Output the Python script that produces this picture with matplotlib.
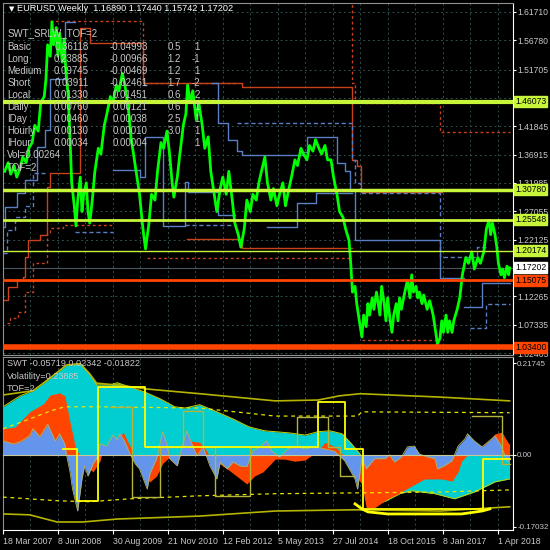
import numpy as np
import matplotlib.pyplot as plt

plt.rcParams['font.family'] = ['Liberation Sans', 'DejaVu Sans']
nan = np.nan

# ---- EURUSD weekly, week 0 = 18 Mar 2007
week = [2, 6, 9, 13, 16, 20, 23, 27, 30, 34,
        37, 41, 44, 48, 50, 52, 55, 57, 59, 62,
        64, 66, 69, 71, 73, 76, 78, 80, 83, 85,
        87, 90, 92, 94, 97, 99, 101, 104, 107, 111,
        114, 118, 121, 125, 128, 132, 135, 139, 142, 146,
        149, 152, 156, 159, 163, 166, 170, 173, 177, 180,
        184, 187, 191, 194, 197, 199, 203, 206, 210, 213,
        215, 218, 221, 225, 228, 232, 235, 239, 242, 246,
        249, 253, 256, 260, 263, 267, 270, 274, 277, 281,
        284, 288, 291, 295, 298, 301, 305, 308, 312, 315,
        319, 322, 326, 329, 333, 336, 340, 343, 347, 350,
        354, 357, 361, 364, 368, 371, 375, 378, 382, 385,
        389, 392, 396, 399, 403, 405, 407, 410, 412, 415,
        418, 420, 423, 425, 427, 430, 432, 435, 439, 441,
        444, 446, 448, 451, 453, 455, 458, 460, 462, 464,
        468, 471, 474, 476, 478, 481, 483, 485, 488, 490,
        494, 497, 501, 504, 506, 509, 511, 513, 516, 518,
        520, 523, 525, 529, 532, 535, 539, 542, 546, 549,
        553, 556, 560, 563, 566, 568, 570, 573, 575, 577,
        580, 582, 584, 587, 589, 590]
close = [1.340, 1.355, 1.335, 1.350, 1.330, 1.345, 1.365, 1.355, 1.380, 1.390,
         1.420, 1.410, 1.460, 1.470, 1.500, 1.560, 1.540, 1.600, 1.560, 1.590,
         1.540, 1.580, 1.530, 1.570, 1.520, 1.470, 1.400, 1.320, 1.280, 1.245,
         1.290, 1.330, 1.270, 1.300, 1.320, 1.270, 1.250, 1.290, 1.340, 1.380,
         1.370, 1.420, 1.440, 1.470, 1.460, 1.490, 1.480, 1.510, 1.490, 1.450,
         1.400, 1.370, 1.330, 1.300, 1.240, 1.205, 1.250, 1.300, 1.290, 1.340,
         1.390, 1.380, 1.410, 1.370, 1.320, 1.295, 1.330, 1.370, 1.420, 1.440,
         1.490, 1.460, 1.480, 1.430, 1.460, 1.420, 1.380, 1.400, 1.340, 1.300,
         1.270, 1.310, 1.330, 1.300, 1.340, 1.290, 1.250, 1.230, 1.208, 1.240,
         1.290, 1.270, 1.300, 1.290, 1.320, 1.340, 1.365, 1.320, 1.290, 1.310,
         1.280, 1.300, 1.320, 1.280, 1.310, 1.330, 1.360, 1.350, 1.380, 1.370,
         1.360, 1.385, 1.375, 1.395, 1.380, 1.370, 1.385, 1.360, 1.360, 1.330,
         1.300, 1.270, 1.260, 1.240, 1.220, 1.180, 1.130, 1.140, 1.110, 1.080,
         1.052, 1.090, 1.070, 1.110, 1.090, 1.120, 1.100, 1.130, 1.090, 1.140,
         1.110, 1.080, 1.120, 1.080, 1.060, 1.090, 1.110, 1.080, 1.120, 1.100,
         1.130, 1.150, 1.120, 1.160, 1.130, 1.140, 1.120, 1.130, 1.110, 1.125,
         1.100, 1.115, 1.090, 1.060, 1.040, 1.050, 1.080, 1.060, 1.090, 1.060,
         1.080, 1.060, 1.080, 1.100, 1.120, 1.160, 1.190, 1.180, 1.200, 1.170,
         1.190, 1.180, 1.200, 1.240, 1.255, 1.230, 1.250, 1.230, 1.210, 1.180,
         1.160, 1.170, 1.155, 1.175, 1.160, 1.172]

date_weeks = [0, 64, 128, 192, 256, 320, 384, 448, 512, 576]
date_labels = ['18 Mar 2007', '8 Jun 2008', '30 Aug 2009', '21 Nov 2010', '12 Feb 2012',
               '5 May 2013', '27 Jul 2014', '18 Oct 2015', '8 Jan 2017', '1 Apr 2018']

price_ticks = [1.61710, 1.56780, 1.51705, 1.46775, 1.41845, 1.36915, 1.31985,
               1.27055, 1.22125, 1.17195, 1.12265, 1.07335, 1.02405]
price_tick_labels = ['1.61710', '1.56780', '1.51705', '', '1.41845', '1.36915', '1.31985',
                     '1.27055', '1.22125', '', '1.12265', '1.07335', '1.02405']

levels = [1.46073, 1.30780, 1.25548, 1.20174, 1.17202, 1.15075, 1.03400]
level_colors = ['#c6f53a', '#c6f53a', '#c6f53a', '#c6f53a', '#ffffff', '#ff4500', '#ff4500']
level_line_colors = ['#c6f53a', '#c6f53a', '#c6f53a', '#c6f53a', '#4a5660', '#ff4500', '#ff4500']
level_widths = [3.0, 2.5, 2.0, 1.0, 0.8, 2.0, 4.0]

# support / resistance steps
red_a_w = [0, 6, 16, 23, 26, 29, 43, 51, 55, 90, 101, 163, 278, 406, 412, 417, 511]
red_a_v = [1.116, 1.139, 1.151, 1.156, 1.191, 1.220, 1.230, 1.313, 1.337, 1.590, 1.563,
           1.493, 1.487, 1.360, 1.350, 1.304, nan]
red_b_w = [214, 278, 406]
red_b_v = [1.222, 1.206, nan]
red_dot_hi_w = [55, 163, 272, 273, 406, 410, 418, 509, 590]
red_dot_hi_v = [1.602, 1.493, nan, 1.700, 1.493, 1.460, 1.458, 1.408, 1.408]
red_dot_lo_w = [5, 8, 17, 26, 35, 51, 55, 70, 128, 168, 406, 418, 505]
red_dot_lo_v = [1.076, 1.085, 1.095, 1.130, 1.180, 1.233, 1.241, 1.246, nan, 1.189, nan, 1.047, nan]
blue_a_w = [0, 2, 16, 26, 40, 49, 55, 72, 84, 128, 159, 165, 186, 212, 215, 250, 270]
blue_a_v = [1.243, 1.278, 1.302, 1.325, 1.382, 1.412, 1.500, 1.600, nan, 1.342, 1.330,
            1.400, 1.245, 1.321, 1.304, 1.264, nan]
blue_b_w = [244, 250, 262, 272, 278, 349, 354, 389, 398, 404, 410, 509, 537]
blue_b_v = [1.493, 1.424, 1.394, 1.375, 1.368, 1.373, 1.400, 1.354, 1.340, 1.307, 1.220, 1.155, nan]
blue_c_w = [307, 342, 365, 407, 537, 558, 590]
blue_c_v = [1.243, 1.285, 1.302, nan, 1.104, 1.145, 1.145]
blue_dash_a_w = [0, 5, 14, 26, 35, 49, 84, 128, 163, 168, 212, 270, 272, 406, 410, 416, 509, 552, 563]
blue_dash_a_v = [1.198, 1.238, 1.260, 1.280, 1.337, nan, 1.234, nan, 1.490, nan, 1.246, nan,
                 1.424, 1.360, 1.320, 1.302, 1.191, 1.208, nan]
blue_dash_b_w = [544, 563, 590]
blue_dash_b_v = [1.067, 1.110, 1.110]

# ---- SWT sub window
cyan_w = [0, 20, 35, 49, 61, 74, 90, 101, 109, 125, 133, 148, 165, 183, 200, 212, 229, 247,
          268, 287, 305, 317, 334, 352, 367, 381, 395, 406, 416, 420, 427, 445, 462, 476,
          503, 526, 549, 573, 590]
cyan_v = [0.114, 0.140, 0.152, 0.173, 0.192, 0.213, 0.216, 0.192, 0.166, 0.166, 0.171, 0.161,
          0.149, 0.133, 0.114, 0.111, 0.119, 0.104, 0.085, 0.066, 0.057, 0.055, 0.052, 0.047,
          0.055, 0.057, 0.050, 0.026, 0.002, -0.030, -0.120, -0.110, -0.092, -0.085, -0.092,
          -0.104, -0.088, -0.064, -0.057]
orange_w = [0, 14, 31, 47, 55, 66, 72, 78, 84, 90,
            98, 105, 113, 116, 125, 133, 140, 148, 154, 163,
            171, 179, 186, 194, 200, 208, 218, 229, 237, 243,
            250, 261, 272, 284, 293, 303, 317, 328, 340, 352,
            367, 375, 386, 395, 402, 410, 418, 423, 433, 448,
            462, 474, 491, 511, 523, 530, 534, 541, 549, 558,
            567, 573, 581, 588, 590]
orange_v = [0.062, 0.066, 0.102, 0.121, 0.142, 0.147, 0.140, 0.078, 0.021, -0.005,
            -0.030, -0.040, -0.014, 0.010, 0.005, 0.030, 0.054, 0.020, -0.010, -0.050,
            -0.064, -0.050, -0.020, -0.005, -0.012, 0.000, 0.033, 0.030, 0.010, -0.014,
            -0.018, -0.033, -0.050, -0.069, -0.050, -0.040, -0.010, -0.010, -0.015, -0.012,
            0.010, 0.030, 0.020, 0.003, -0.020, -0.045, -0.070, -0.125, -0.125, -0.104,
            -0.090, -0.076, -0.057, -0.057, -0.062, -0.040, -0.015, 0.000, 0.010, 0.020,
            0.035, 0.050, 0.054, 0.030, 0.025]
blue_w = [0, 12, 20, 31, 35, 43, 52, 61, 66, 72,
          74, 78, 81, 87, 92, 95, 99, 105, 111, 113,
          121, 128, 133, 136, 142, 148, 154, 159, 168, 171,
          179, 186, 191, 194, 203, 208, 214, 220, 226, 233,
          241, 249, 253, 261, 268, 276, 284, 291, 299, 307,
          313, 322, 332, 340, 352, 363, 375, 386, 398, 410,
          413, 418, 423, 433, 445, 450, 456, 464, 471, 479,
          485, 495, 503, 506, 514, 523, 530, 538, 541, 549,
          558, 565, 573, 579, 584, 588, 590]
blue_v = [0.033, 0.026, 0.031, 0.045, 0.062, 0.043, 0.073, 0.033, 0.050, 0.026,
          0.000, -0.040, -0.081, -0.133, -0.057, -0.026, -0.050, -0.021, -0.002, 0.026,
          0.021, 0.047, 0.036, 0.050, 0.031, 0.002, -0.021, -0.033, -0.081, -0.045,
          -0.009, 0.055, 0.026, -0.009, -0.026, 0.014, 0.057, 0.026, -0.002, 0.019,
          -0.026, -0.057, -0.017, -0.033, -0.017, -0.026, -0.028, 0.009, 0.019, 0.033,
          0.009, -0.005, 0.014, 0.021, 0.014, 0.019, 0.014, 0.009, -0.014, -0.057,
          -0.081, -0.009, -0.033, -0.009, -0.009, 0.000, -0.017, -0.005, 0.019, 0.021,
          0.002, -0.005, -0.009, -0.033, -0.026, -0.014, 0.021, 0.038, 0.050, 0.033,
          0.019, 0.031, 0.045, 0.026, 0.002, -0.017, -0.014]
upper_w = [0, 35, 49, 61, 74, 90, 101, 109, 136, 168, 229, 317, 367, 392, 416, 509, 590]
upper_v = [0.142, 0.152, 0.173, 0.192, 0.213, 0.216, 0.192, 0.170, 0.165, 0.156, 0.145,
           0.128, 0.130, 0.140, 0.145, 0.137, 0.128]
mid_up_w = [0, 31, 55, 72, 113, 229, 317, 413, 418, 590]
mid_up_v = [0.062, 0.085, 0.104, 0.114, 0.114, 0.111, 0.092, 0.092, 0.102, 0.100]
lower_w = [0, 31, 63, 93, 133, 229, 317, 413, 509, 590]
lower_v = [-0.140, -0.142, -0.159, -0.159, -0.152, -0.145, -0.133, -0.130, -0.133, -0.123]
mid_lo_w = [0, 66, 101, 148, 229, 317, 413, 509, 590]
mid_lo_v = [-0.100, -0.109, -0.111, -0.104, -0.097, -0.092, -0.090, -0.088, -0.083]
trough_w = [410, 418, 425, 448, 485, 534, 558, 567]
trough_v = [-0.116, -0.128, -0.135, -0.140, -0.140, -0.140, -0.133, -0.128]
sig1_w = [70, 86, 111, 165, 367, 398, 419, 559, 590]
sig1_v = [0.014, -0.109, 0.161, 0.019, 0.126, 0.014, -0.128, -0.009, -0.009]
sig2_w = [125, 150, 183, 210, 233, 247, 288, 342, 378, 392, 410, 546, 581, 590]
sig2_v = [0.114, -0.099, 0.019, 0.104, 0.019, -0.097, 0.019, 0.090, 0.019, -0.050, nan,
          0.092, -0.021, -0.021]

table_rows = ['Basic', 'Long', 'Medium', 'Short', 'Local', 'Daily', 'IDay', 'Hourly', 'IHour']
table_c1 = ['0.36118', '0.23885', '0.09745', '0.03911', '0.01330', '0.00760', '0.00460', '0.00130', '0.00034']
table_c2 = ['-0.04993', '-0.00966', '-0.00469', '-0.02461', '0.01451', '0.00121', '0.00038', '0.00010', '0.00004']
table_c3 = ['0.5', '1.2', '1.2', '1.7', '0.6', '0.6', '2.5', '3.0', '']
table_c4 = ['1', '-1', '1', '-2', '2', '1', '1', '1', '1']

# ---------------------------------------------------------------
RED = '#c8421a'
BLUE = '#5b7fc4'
GRID = '#2f4f4f'
TXT = '#c8c8c8'

fig = plt.figure(figsize=(5.5, 5.5), dpi=100, facecolor='black')
ax1 = fig.add_axes([3 / 550, 195 / 550, 510 / 550, 352 / 550], facecolor='black')
ax2 = fig.add_axes([3 / 550, 20 / 550, 510 / 550, 173 / 550], facecolor='black')

for ax in (ax1, ax2):
    ax.set_xlim(0, 594)
    for w in range(0, 594, 32):
        ax.axvline(w, color=GRID, lw=0.7, ls=(0, (2, 3)), zorder=0.5)
    for s in ax.spines.values():
        s.set_color('#909090')
        s.set_linewidth(0.8)
    ax.spines['right'].set_color('white')
    ax.yaxis.tick_right()
    ax.tick_params(axis='y', colors='white', labelcolor=TXT, labelsize=6.2, length=2, pad=1.5)
ax2.spines['bottom'].set_color('white')
ax2.tick_params(axis='y', labelsize=5.8, pad=1)

# --- top window
ax1.set_ylim(1.0206, 1.6327)
for p in price_ticks:
    ax1.axhline(p, color=GRID, lw=0.7, ls=(0, (2, 3)), zorder=0.5)
ax1.set_yticks(price_ticks, price_tick_labels)
ax1.set_xticks([])

ax1.step(red_a_w, red_a_v, where='post', color=RED, lw=1.0, zorder=2)
ax1.step(red_b_w, red_b_v, where='post', color=RED, lw=1.0, zorder=2)
ax1.step(red_dot_hi_w, red_dot_hi_v, where='post', color=RED, lw=1.0, ls=(0, (2, 2)), zorder=2)
ax1.step(red_dot_lo_w, red_dot_lo_v, where='post', color=RED, lw=1.0, ls=(0, (2, 2)), zorder=2)
ax1.step(blue_a_w, blue_a_v, where='post', color=BLUE, lw=1.0, zorder=2)
ax1.step(blue_b_w, blue_b_v, where='post', color=BLUE, lw=1.0, zorder=2)
ax1.step(blue_c_w, blue_c_v, where='post', color=BLUE, lw=1.0, zorder=2)
ax1.step(blue_dash_a_w, blue_dash_a_v, where='post', color=BLUE, lw=1.0, ls=(0, (3, 2)), zorder=2)
ax1.step(blue_dash_b_w, blue_dash_b_v, where='post', color=BLUE, lw=1.0, ls=(0, (3, 2)), zorder=2)

ax1.plot(week, close, color='#00ff00', lw=2.0, zorder=3)

for lvl, lc, bc, lw in zip(levels, level_line_colors, level_colors, level_widths):
    ax1.axhline(lvl, color=lc, lw=lw, zorder=4 if lc != '#4a5660' else 1.5)
    ax1.text(1.004, lvl, '%.5f' % lvl, transform=ax1.get_yaxis_transform(), ha='left',
             va='center', fontsize=6.2, color='black', clip_on=False, zorder=10,
             bbox=dict(boxstyle='square,pad=0.12', fc=bc, ec=bc))

tr = ax1.transAxes
ax1.text(0.012, 0.983, '\u25bc', transform=tr, color='white', fontsize=5,
         va='center', family=['DejaVu Sans'], zorder=6)
ax1.text(0.028, 0.983, 'EURUSD,Weekly  1.16890 1.17440 1.15742 1.17202', transform=tr,
         color='white', fontsize=6.6, va='center', zorder=6)
ax1.text(0.008, 0.915, 'SWT_SRLW_TOF=2', transform=tr, color=TXT, fontsize=7, va='center', zorder=6)
for i, name in enumerate(table_rows):
    y = 1 - (47 + 12 * i - 3) / 352
    ax1.text(0.008, y, name, transform=tr, color=TXT, fontsize=7, va='center', zorder=6)
    ax1.text(0.168, y, table_c1[i], transform=tr, color=TXT, fontsize=7, va='center', ha='right', zorder=6)
    ax1.text(0.284, y, table_c2[i], transform=tr, color=TXT, fontsize=7, va='center', ha='right', zorder=6)
    ax1.text(0.322, y, table_c3[i], transform=tr, color=TXT, fontsize=7, va='center', zorder=6)
    ax1.text(0.386, y, table_c4[i], transform=tr, color=TXT, fontsize=7, va='center', ha='right', zorder=6)
ax1.text(0.008, 1 - (155 - 3) / 352, 'Vol=0.00264', transform=tr, color=TXT, fontsize=7, va='center', zorder=6)
ax1.text(0.008, 1 - (168 - 3) / 352, 'TOF=2', transform=tr, color=TXT, fontsize=7, va='center', zorder=6)

# --- SWT window
ax2.set_ylim(-0.178, 0.232)
ax2.fill_between(cyan_w, 0, cyan_v, color='#00ced1', lw=0, zorder=1)
ax2.plot(cyan_w, cyan_v, color='#c8d200', lw=0.7, zorder=1.2)
ax2.fill_between(orange_w, 0, orange_v, color='#ff4500', lw=0, zorder=2)
ax2.fill_between(blue_w, 0, blue_v, color='#6495ed', lw=0, zorder=3)
ax2.plot(blue_w, blue_v, color='#b4b45a', lw=0.6, zorder=3.2)
ax2.axhline(0, color='#c8c896', lw=0.8, zorder=3.5)

ax2.plot(upper_w, upper_v, color='#b4b400', lw=1.2, zorder=4)
ax2.plot(lower_w, lower_v, color='#b4b400', lw=1.2, zorder=4)
ax2.plot(mid_up_w, mid_up_v, color='#e6e600', lw=0.9, ls=(0, (3, 3)), zorder=4)
ax2.plot(mid_lo_w, mid_lo_v, color='#e6e600', lw=0.9, ls=(0, (3, 3)), zorder=4)
ax2.plot(trough_w, trough_v, color='#ffff00', lw=2.0, zorder=4)
ax2.step(sig2_w, sig2_v, where='post', color='#b4b43c', lw=1.0, zorder=4.5)
ax2.step(sig1_w, sig1_v, where='post', color='#ffff00', lw=1.3, zorder=5)

ax2.set_yticks([0.21745, 0.0, -0.17032], ['0.21745', '0.00', '-0.17032'])
ax2.set_xticks(date_weeks, date_labels)
ax2.tick_params(axis='x', colors='white', labelcolor=TXT, labelsize=6.3, length=3, pad=2)
for lab in ax2.get_xticklabels():
    lab.set_ha('left')

tr2 = ax2.transAxes
ax2.text(0.008, 0.965, 'SWT -0.05719 0.02342 -0.01822', transform=tr2, color=TXT,
         fontsize=6.6, va='center', zorder=6)
ax2.text(0.008, 0.89, 'Volatility=0.23885', transform=tr2, color=TXT, fontsize=6.6,
         va='center', zorder=6)
ax2.text(0.008, 0.82, 'TOF=2', transform=tr2, color=TXT, fontsize=6.6, va='center', zorder=6)

fig.savefig('out.png', dpi=100, facecolor='black')
